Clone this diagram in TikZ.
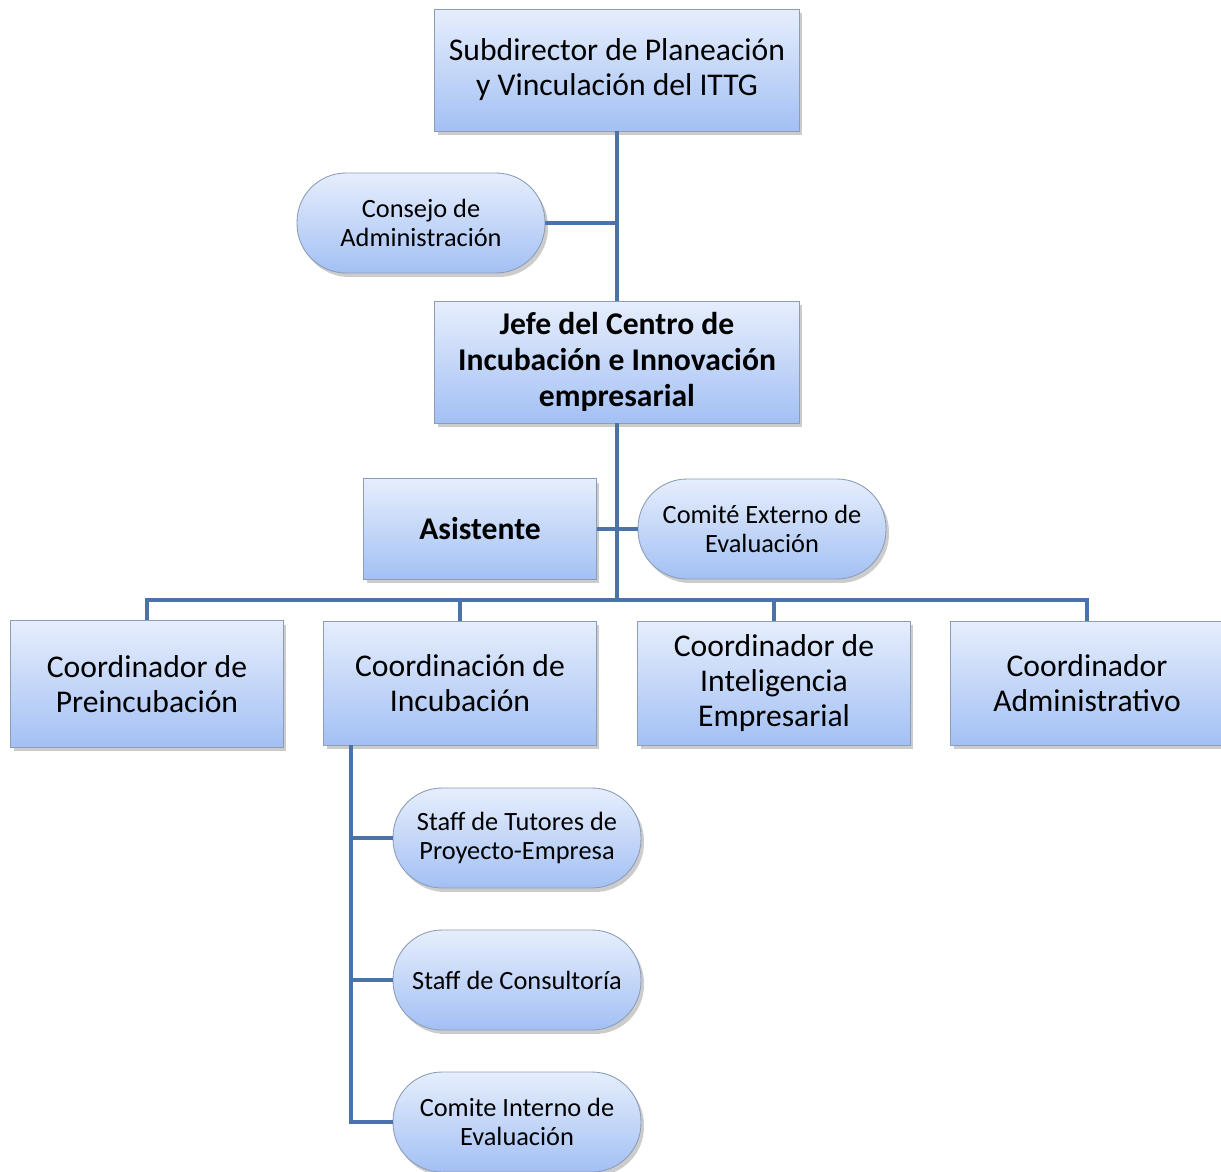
\documentclass[tikz,border=0pt]{standalone}
\usepackage{fontspec}
\setmainfont{Carlito}
\usetikzlibrary{shadows}
\definecolor{boxtop}{HTML}{E6EEFC}
\definecolor{boxbot}{HTML}{A3C0F4}
\definecolor{boxline}{HTML}{8C9DB8}
\definecolor{linkblue}{HTML}{4A73A9}
\begin{document}
\begin{tikzpicture}[
  x=0.02cm, y=-0.02cm,
  box/.style={rectangle, draw=boxline, line width=0.5pt, top color=boxtop, bottom color=boxbot,
    inner sep=0pt, align=center, drop shadow={shadow xshift=0.6mm, shadow yshift=-0.8mm, opacity=0.4}},
  big/.style={box, minimum width=7.3cm, minimum height=2.44cm, font=\fontsize{18}{20}\selectfont},
  coord/.style={box, minimum width=5.45cm, minimum height=2.48cm, font=\fontsize{18}{20}\selectfont},
  pill/.style={box, rounded corners=0.98cm, minimum width=4.96cm, minimum height=2cm, font=\fontsize{15}{17}\selectfont},
  link/.style={draw=linkblue, line width=2.8pt, line join=miter}
]
\useasboundingbox (0,0) rectangle (1221,1172);

% junction points
\coordinate (bus) at (617,600);
\coordinate (inctrunk) at (351,745);

% top and second level
\node[big] (sub) at (617,70) {Subdirector de Planeación\\y Vinculación del ITTG};
\node[pill] (consejo) at (421,223) {Consejo de\\Administración};
\node[big, font=\fontsize{18}{20.5}\selectfont\bfseries] (jefe) at (617,362) {Jefe del Centro de\\Incubación e Innovación\\empresarial};

\draw[link] (sub.south) -- (jefe.north);
\draw[link] (consejo.east) -- (sub.south |- consejo.east);

% staff level
\node[box, minimum width=4.66cm, minimum height=2.02cm, font=\fontsize{18}{20}\selectfont\bfseries] (asis) at (480,529) {Asistente};
\node[pill] (comext) at (762,529) {Comité Externo de\\Evaluación};

% coordinators
\node[coord, minimum height=2.54cm] (pre) at (147,684) {Coordinador de\\Preincubación};
\node[coord] (inc) at (460,683) {Coordinación de\\Incubación};
\node[coord] (intel) at (774,683) {Coordinador de\\Inteligencia\\Empresarial};
\node[coord] (adm) at (1087,683) {Coordinador\\Administrativo};

% under Incubacion
\node[pill] (tut) at (517,838) {Staff de Tutores de\\Proyecto-Empresa};
\node[pill] (cons) at (517,980) {Staff de Consultoría};
\node[pill] (cii) at (517,1122) {Comite Interno de\\Evaluación};

\draw[link] (jefe.south) -- (bus);
\draw[link] (asis.east) -- (comext.west);
\draw[link] (pre.north) |- (adm.north |- bus) -- (adm.north);
\draw[link] (inc.north) -- (inc.north |- bus);
\draw[link] (intel.north) -- (intel.north |- bus);

\draw[link] (inctrunk) |- (cii.west);
\draw[link] (inctrunk |- tut.west) -- (tut.west);
\draw[link] (inctrunk |- cons.west) -- (cons.west);

\end{tikzpicture}
\end{document}
